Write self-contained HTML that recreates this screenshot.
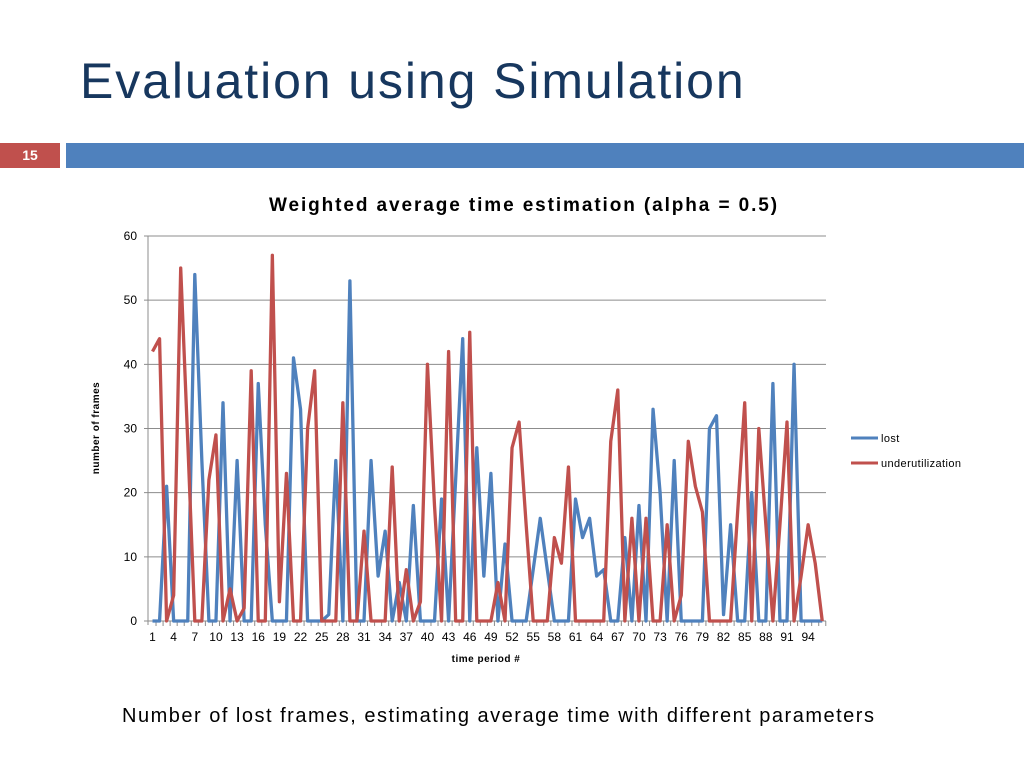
<!DOCTYPE html>
<html><head><meta charset="utf-8"><style>
body{margin:0;width:1024px;height:768px;background:#fff;overflow:hidden;position:relative;font-family:"Liberation Sans",sans-serif}
.t{position:absolute;white-space:nowrap}
</style></head><body>
<div class="t" style="left:80px;top:52px;font-size:50px;color:#17375e;letter-spacing:1.9px">Evaluation using Simulation</div>
<div style="position:absolute;left:0;top:143px;width:60px;height:25px;background:#c0504d;color:#fff;font-weight:bold;font-size:14px;text-align:center;line-height:25px">15</div>
<div style="position:absolute;left:66px;top:143px;width:958px;height:25px;background:#4f81bd"></div>
<svg id="chart" width="1024" height="768" style="position:absolute;left:0;top:0" font-family="Liberation Sans, sans-serif"></svg>
<div class="t" style="left:122px;top:705px;font-size:20px;color:#000;letter-spacing:1.5px">Number of lost frames, estimating average time with different parameters</div>
<script>
const yTicks=[0,10,20,30,40,50,60];
const lost=[0,0,21,0,0,0,54,25,0,0,34,0,25,0,0,37,15,0,0,0,41,33,0,0,0,1,25,0,53,0,0,25,7,14,0,6,0,18,0,0,0,19,0,22,44,0,27,7,23,0,12,0,0,0,8,16,8,0,0,0,19,13,16,7,8,0,0,13,0,18,0,33,20,0,25,0,0,0,0,30,32,1,15,0,0,20,0,0,37,0,0,40,0,0,0,0];
const under=[42,44,0,4,55,28,0,0,22,29,0,5,0,2,39,0,0,57,3,23,0,0,30,39,0,0,0,34,0,0,14,0,0,0,24,0,8,0,3,40,18,0,42,0,0,45,0,0,0,6,0,27,31,15,0,0,0,13,9,24,0,0,0,0,0,28,36,0,16,0,16,0,0,15,0,4,28,21,17,0,0,0,0,17,34,0,30,15,0,15,31,0,7,15,9,0];
const svg=document.getElementById('chart');const NS='http://www.w3.org/2000/svg';
const X0=152.5,DX=7.05,Y0=621,YS=(621-236)/60;
const xs=i=>X0+i*DX, ys=v=>Y0-v*YS;
function mk(tag,attrs,txt){const e=document.createElementNS(NS,tag);for(const k in attrs)e.setAttribute(k,attrs[k]);if(txt!==undefined)e.textContent=txt;svg.appendChild(e);return e;}
let t=mk('text',{x:524,y:211,'text-anchor':'middle','font-size':19,'font-weight':'bold','letter-spacing':'1.9'},'Weighted average time estimation (alpha = 0.5)');


yTicks.forEach(v=>{
 const g=mk('line',{x1:144,x2:826,y1:ys(v),y2:ys(v),stroke:'#8c8c8c','stroke-width':1});
 
 
 const l=mk('text',{x:137,y:ys(v)+4,'text-anchor':'end','font-size':12},String(v));
 
 
});
let ax=mk('line',{x1:148,x2:148,y1:236,y2:625,stroke:'#8c8c8c'});


for(let i=0;i<lost.length;i++){
 const tk=mk('line',{x1:xs(i)+DX/2,x2:xs(i)+DX/2,y1:621,y2:626,stroke:'#8c8c8c'});
 
 
 if(i%3===0){const l=mk('text',{x:xs(i),y:641,'text-anchor':'middle','font-size':12},String(i+1));
 
 }
}
t=mk('text',{x:486,y:662,'text-anchor':'middle','font-size':10,'font-weight':'bold','letter-spacing':'0.5'},'time period #');


t=mk('text',{x:0,y:0,'text-anchor':'middle','font-size':10,'font-weight':'bold','letter-spacing':'0.5',transform:'translate(99,428) rotate(-90)'},'number of frames');


function series(arr,color,name){
 const p=mk('polyline',{points:arr.map((v,i)=>xs(i)+','+ys(v)).join(' '),fill:'none',stroke:color,'stroke-width':3.3,'stroke-linejoin':'round'});
 
 
}
series(lost,'#4f81bd','series-lost');
series(under,'#c0504d','series-underutilization');
[['lost','#4f81bd',438],['underutilization','#c0504d',463]].forEach(([n,c,y])=>{
 const l=mk('line',{x1:851,x2:878,y1:y,y2:y,stroke:c,'stroke-width':3});
 
 
 const tx=mk('text',{x:881,y:y+4,'font-size':11,'letter-spacing':'0.4'},n);
 
 
});
</script>
</body></html>
